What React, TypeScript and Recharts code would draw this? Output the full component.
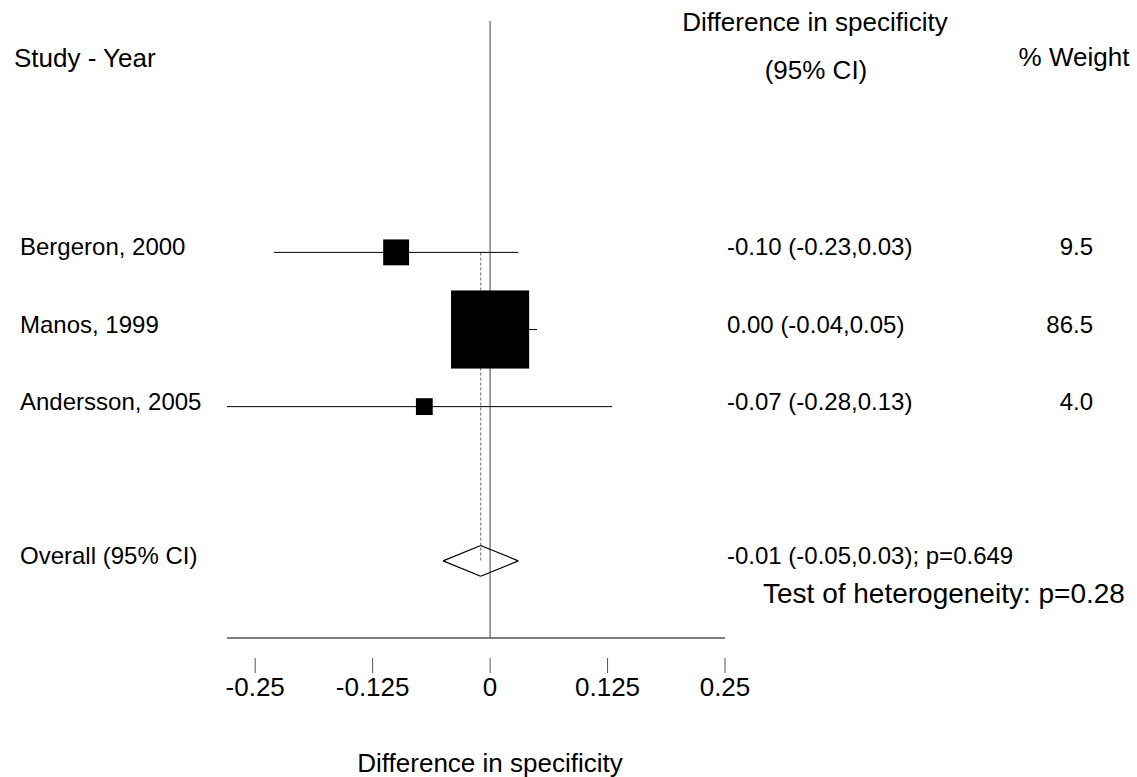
import { ScatterChart, Scatter, XAxis, YAxis, ReferenceLine } from "recharts"

const studies = ["Bergeron, 2000", "Manos, 1999", "Andersson, 2005"]
const rows = [1, 2, 3]
const estimates = [-0.1, 0.0, -0.07]
const lowerCI = [-0.23, -0.04, -0.28]
const upperCI = [0.03, 0.05, 0.13]
const weights = [9.5, 86.5, 4.0]

const overallLabel = "Overall (95% CI)"
const overallRow = 5
const overallEst = -0.01
const overallLower = -0.05
const overallUpper = 0.03
const overallP = "0.649"
const heterogeneityP = "0.28"

const xTicks = [-0.25, -0.125, 0, 0.125, 0.25]
const xTickLabels = ["-0.25", "-0.125", "0", "0.125", "0.25"]

const FONT = "'Liberation Sans', Arial, sans-serif"

const studyData = studies.map((name, i) => ({
    name,
    row: rows[i],
    est: estimates[i],
    lo: lowerCI[i],
    hi: upperCI[i],
    weight: weights[i],
}))

const fmt = (v: number) => v.toFixed(2)

// square area proportional to weight
const SquareShape = (props: any) => {
    const { cx, cy, payload } = props
    const side = 8.4 * Math.sqrt(payload.weight)
    return <rect x={cx - side / 2} y={cy - side / 2} width={side} height={side} fill="#000" />
}

const StudyTick = (props: any) => {
    const { y, payload } = props
    const i = rows.indexOf(payload.value)
    const label = i >= 0 ? studies[i] : payload.value === overallRow ? overallLabel : ""
    return (
        <text x={20} y={y} dy={3} fontSize={24} fontFamily={FONT} fill="#000">
            {label}
        </text>
    )
}

const EstimateTick = (props: any) => {
    const { y, payload } = props
    const i = rows.indexOf(payload.value)
    if (i >= 0) {
        return (
            <g>
                <text x={727} y={y} dy={3} fontSize={24} fontFamily={FONT} fill="#000">
                    {`${fmt(estimates[i])} (${fmt(lowerCI[i])},${fmt(upperCI[i])})`}
                </text>
                <text x={1093} y={y} dy={3} fontSize={24} fontFamily={FONT} fill="#000" textAnchor="end">
                    {weights[i].toFixed(1)}
                </text>
            </g>
        )
    }
    if (payload.value === overallRow) {
        return (
            <text x={727} y={y} dy={3} fontSize={24} fontFamily={FONT} fill="#000">
                {`${fmt(overallEst)} (${fmt(overallLower)},${fmt(overallUpper)}); p=${overallP}`}
            </text>
        )
    }
    return <g />
}

const XTick = (props: any) => {
    const { x, y, payload } = props
    const i = xTicks.indexOf(payload.value)
    return (
        <g>
            <line x1={x} x2={x} y1={y + 20} y2={y + 35} stroke="#555" strokeWidth={1} />
            <text x={x} y={y + 58} textAnchor="middle" fontSize={26} fontFamily={FONT} fill="#000">
                {xTickLabels[i]}
            </text>
        </g>
    )
}

const diamond = [
    { x: overallLower, y: overallRow },
    { x: overallEst, y: overallRow - 0.2 },
    { x: overallUpper, y: overallRow },
    { x: overallEst, y: overallRow + 0.2 },
]

const App = () => {
    return (
        <div style={{ position: "absolute", left: 0, top: 0, background: "#fff" }}>
            <ScatterChart width={1137} height={777} margin={{ top: 21, right: 0, left: 0, bottom: 39 }}>
                <XAxis
                    type="number"
                    dataKey="est"
                    domain={[-0.28, 0.25]}
                    ticks={xTicks}
                    tickSize={0}
                    tickMargin={0}
                    tickLine={false}
                    tick={<XTick />}
                    axisLine={{ stroke: "#555", strokeWidth: 1.5 }}
                    height={100}
                    interval={0}
                />
                <YAxis
                    yAxisId="left"
                    type="number"
                    dataKey="row"
                    domain={[-2, 6]}
                    reversed
                    ticks={[...rows, overallRow]}
                    interval={0}
                    width={227}
                    axisLine={false}
                    tickLine={false}
                    tick={<StudyTick />}
                />
                <YAxis
                    yAxisId="right"
                    orientation="right"
                    type="number"
                    dataKey="row"
                    domain={[-2, 6]}
                    reversed
                    ticks={[...rows, overallRow]}
                    interval={0}
                    width={412}
                    axisLine={false}
                    tickLine={false}
                    tick={<EstimateTick />}
                />
                <ReferenceLine yAxisId="left" x={0} stroke="#808080" strokeWidth={1.5} ifOverflow="visible" />
                <ReferenceLine
                    yAxisId="left"
                    segment={[{ x: overallEst, y: rows[0] }, { x: overallEst, y: overallRow }]}
                    stroke="#808080"
                    strokeWidth={1.2}
                    strokeDasharray="3 2"
                    ifOverflow="visible"
                />
                {studyData.map((d) => (
                    <ReferenceLine
                        key={d.name}
                        yAxisId="left"
                        segment={[{ x: d.lo, y: d.row }, { x: d.hi, y: d.row }]}
                        stroke="#000"
                        strokeWidth={1}
                        ifOverflow="visible"
                    />
                ))}
                {diamond.map((p, i) => {
                    const q = diamond[(i + 1) % diamond.length]
                    return (
                        <ReferenceLine
                            key={"d" + i}
                            yAxisId="left"
                            segment={[p, q]}
                            stroke="#000"
                            strokeWidth={1.2}
                            ifOverflow="visible"
                        />
                    )
                })}
                <Scatter yAxisId="left" data={studyData} shape={<SquareShape />} isAnimationActive={false} />
                <Scatter yAxisId="right" data={studyData} shape={() => <g />} isAnimationActive={false} />

                <text x={14} y={67} fontSize={26} fontFamily={FONT} fill="#000">Study - Year</text>
                <text x={815} y={31} textAnchor="middle" fontSize={26} fontFamily={FONT} fill="#000">Difference in specificity</text>
                <text x={816} y={79} textAnchor="middle" fontSize={26} fontFamily={FONT} fill="#000">(95% CI)</text>
                <text x={1074} y={66} textAnchor="middle" fontSize={26} fontFamily={FONT} fill="#000">% Weight</text>
                <text x={763} y={603} fontSize={28} fontFamily={FONT} fill="#000">{`Test of heterogeneity: p=${heterogeneityP}`}</text>
                <text x={490} y={772} textAnchor="middle" fontSize={26} fontFamily={FONT} fill="#000">Difference in specificity</text>
            </ScatterChart>
        </div>
    )
}

export default App
